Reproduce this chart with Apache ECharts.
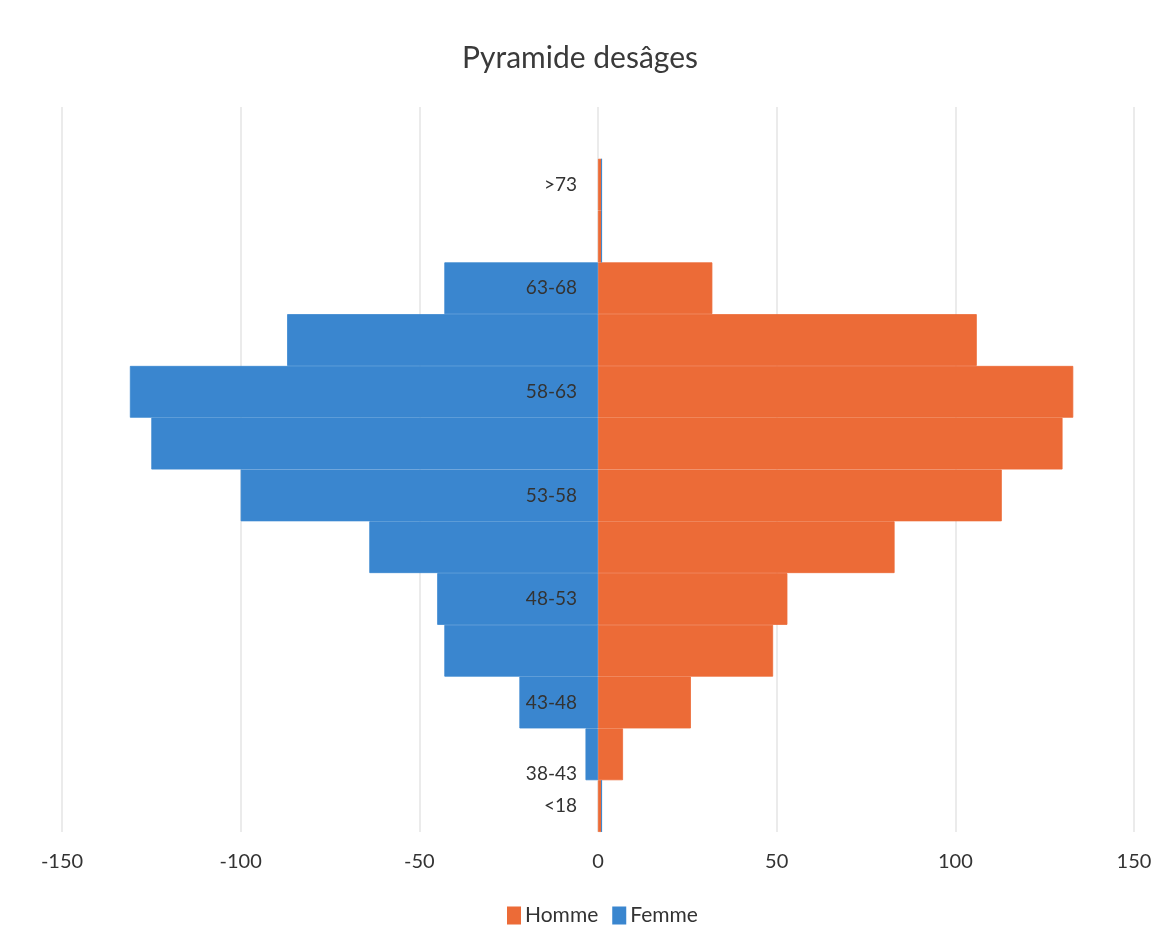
<!DOCTYPE html>
<html>
<head>
<meta charset="utf-8">
<script src="https://cdn.jsdelivr.net/npm/echarts@6/dist/echarts.min.js"></script>
<style>
html,body{margin:0;padding:0;background:#fff;}
#chart{width:1173px;height:946px;}
</style>
</head>
<body>
<div id="chart"></div>
<script>
// Categories from bottom to top
const categories = ['<18', '38-43', '43-48', '45-50', '48-53', '50-55', '53-58', '55-60', '58-63', '60-65', '63-68', '68-73', '>73', ''];
const homme = [1, 7, 26, 49, 53, 83, 113, 130, 133, 106, 32, 1, 1, null];
const femme = [0, -3.5, -22, -43, -45, -64, -100, -125, -131, -87, -43, 0, 0, null];
const xTicks = [-150, -100, -50, 0, 50, 100, 150];
const shownLabels = ['<18', '38-43', '43-48', '48-53', '53-58', '58-63', '63-68', '>73'];

const GRID_LEFT = 62, GRID_RIGHT = 39, W = 1173;
const zeroX = GRID_LEFT + (W - GRID_LEFT - GRID_RIGHT) * (0 - xTicks[0]) / (xTicks[xTicks.length - 1] - xTicks[0]);

const chart = echarts.init(document.getElementById('chart'));
const fontFamily = 'Lato, "Open Sans", sans-serif';
const ORANGE = '#EC6B37', BLUE = '#3A86CF';
chart.setOption({
  backgroundColor: '#fff',
  animation: false,
  textStyle: { fontFamily: fontFamily },
  title: {
    text: 'Pyramide desâges',
    left: 575, top: 38,
    textAlign: 'center',
    textStyle: { fontFamily: fontFamily, fontSize: 30, fontWeight: 'normal', color: '#3a3a3a' }
  },
  legend: {
    data: ['Homme', 'Femme'],
    left: 502, top: 900,
    icon: 'rect', itemWidth: 12, itemHeight: 16, itemGap: 14,
    textStyle: { fontFamily: fontFamily, fontSize: 21, color: '#333' }
  },
  grid: { left: GRID_LEFT, right: GRID_RIGHT, top: 107, bottom: 114, containLabel: false, outerBoundsMode: 'none' },
  xAxis: {
    type: 'value', min: xTicks[0], max: xTicks[xTicks.length - 1], interval: 50,
    axisLine: { show: false }, axisTick: { show: false },
    splitLine: { show: true, lineStyle: { color: '#e4e4e4', width: 1.5 } },
    axisLabel: { margin: 20, fontFamily: fontFamily, fontSize: 20, color: '#333' }
  },
  yAxis: {
    type: 'category', data: categories, z: 10,
    offset: -(zeroX - GRID_LEFT),
    axisLine: { show: false, onZero: false }, axisTick: { show: false },
    axisLabel: {
      margin: 21, fontFamily: fontFamily, fontSize: 19, color: '#333',
      interval: function (i, v) { return shownLabels.indexOf(v) >= 0; },
      formatter: function (v) { return v === '38-43' ? '{low|' + v + '}' : v; },
      rich: { low: { fontFamily: fontFamily, fontSize: 19, color: '#333', padding: [40, 0, 0, 0] } }
    }
  },
  series: [
    { name: 'Homme', type: 'bar', stack: 'pop', data: homme, barCategoryGap: '0%',
      itemStyle: { color: ORANGE, borderColor: ORANGE, borderWidth: 0.8 } },
    { name: 'Femme', type: 'bar', stack: 'pop', data: femme, barCategoryGap: '0%',
      itemStyle: { color: BLUE, borderColor: BLUE, borderWidth: 0.8 } }
  ]
});
</script>
</body>
</html>
